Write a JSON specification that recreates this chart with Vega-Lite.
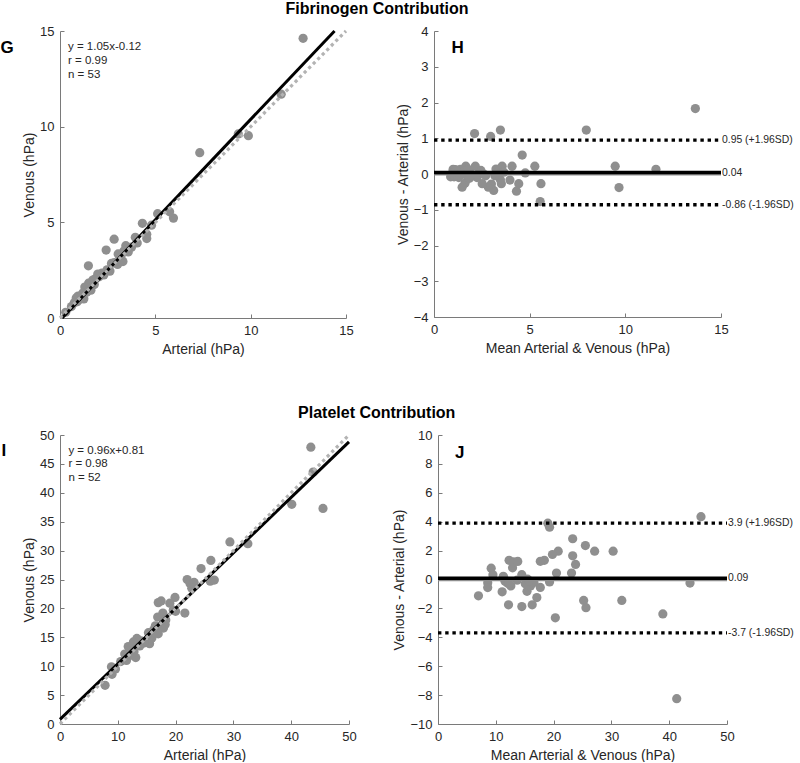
{
  "$schema": "https://vega.github.io/schema/vega-lite/v6.json",
  "padding": {"left": 0, "top": 0, "right": 0, "bottom": 0},
  "background": "white",
  "spacing": 48,
  "vconcat": [
    {
      "title": {"text": "Fibrinogen Contribution", "dx": -20},
      "spacing": 42,
      "hconcat": [
        {
          "width": 286, "height": 287,
          "encoding": {
            "x": {"field": "x", "type": "quantitative", "scale": {"domain": [0, 15], "nice": false, "zero": false}, "axis": {"values": [0, 5, 10, 15], "title": "Arterial (hPa)"}},
            "y": {"field": "y", "type": "quantitative", "scale": {"domain": [0, 15], "nice": false, "zero": false}, "axis": {"values": [0, 5, 10, 15], "title": "Venous (hPa)"}}
          },
          "layer": [
            {
              "data": {"values": [{"x":12.75,"y":14.62},{"x":11.6,"y":11.7},{"x":9.88,"y":9.53},{"x":9.35,"y":9.62},{"x":7.33,"y":8.64},{"x":5.95,"y":5.22},{"x":5.75,"y":5.55},{"x":5.12,"y":5.45},{"x":4.8,"y":4.85},{"x":4.32,"y":4.95},{"x":4.55,"y":4.38},{"x":4.55,"y":4.15},{"x":3.95,"y":4.22},{"x":4.05,"y":3.92},{"x":2.84,"y":4.12},{"x":3.45,"y":3.78},{"x":3.58,"y":3.45},{"x":3.35,"y":3.5},{"x":3.05,"y":3.35},{"x":3.02,"y":2.8},{"x":3.3,"y":2.95},{"x":3.2,"y":3.2},{"x":2.42,"y":3.55},{"x":2.7,"y":2.85},{"x":2.47,"y":2.52},{"x":2.62,"y":2.45},{"x":2.2,"y":2.35},{"x":1.98,"y":2.3},{"x":2.05,"y":2.15},{"x":1.85,"y":2.05},{"x":1.72,"y":1.98},{"x":1.49,"y":2.73},{"x":1.5,"y":1.82},{"x":1.62,"y":1.45},{"x":1.65,"y":1.65},{"x":1.3,"y":1.62},{"x":1.4,"y":1.35},{"x":1.2,"y":1.3},{"x":0.95,"y":1.15},{"x":1.1,"y":1.05},{"x":1.0,"y":0.95},{"x":0.85,"y":1.05},{"x":1.25,"y":1.0},{"x":0.6,"y":0.6},{"x":0.3,"y":0.3},{"x":1.8,"y":1.75},{"x":2.3,"y":2.25},{"x":0.9,"y":0.85},{"x":3.75,"y":3.7},{"x":1.55,"y":1.5},{"x":2.85,"y":2.9},{"x":1.15,"y":1.2},{"x":0.75,"y":0.8}]},
              "mark": {"type": "circle", "size": 85, "color": "#8f8f8f", "opacity": 1}
            },
            {
              "data": {"values": [{"x": 0.114, "y": 0}, {"x": 14.4, "y": 15}]},
              "mark": {"type": "line", "color": "#000000", "strokeWidth": 3}
            },
            {
              "data": {"values": [{"x": 0, "y": 0}, {"x": 15, "y": 15}]},
              "mark": {"type": "line", "color": "#b3b3b3", "strokeWidth": 3.2, "strokeDash": [3.2, 3.2]}
            },
            {
              "data": {"values": [{"x": 0.42, "y": 14.14, "label": "y = 1.05x-0.12"}, {"x": 0.42, "y": 13.41, "label": "r = 0.99"}, {"x": 0.42, "y": 12.7, "label": "n = 53"}]},
              "mark": {"type": "text", "align": "left", "baseline": "middle", "fontSize": 11.5, "font": "Liberation Sans", "color": "#262626"},
              "encoding": {"text": {"field": "label"}}
            },
            {
              "data": {"values": [{"x": -3.12, "y": 13.85, "label": "G"}]},
              "mark": {"type": "text", "align": "left", "baseline": "alphabetic", "fontSize": 17, "fontWeight": "bold", "font": "Liberation Sans", "color": "#000000"},
              "encoding": {"text": {"field": "label"}}
            }
          ]
        },
        {
          "width": 287, "height": 286,
          "encoding": {
            "x": {"field": "x", "type": "quantitative", "scale": {"domain": [0, 15], "nice": false, "zero": false}, "axis": {"values": [0, 5, 10, 15], "title": "Mean Arterial & Venous (hPa)"}},
            "y": {"field": "y", "type": "quantitative", "scale": {"domain": [-4, 4], "nice": false, "zero": false}, "axis": {"values": [-4, -3, -2, -1, 0, 1, 2, 3, 4], "title": "Venous - Arterial (hPa)"}}
          },
          "layer": [
            {
              "data": {"values": [{"x":13.66,"y":1.83},{"x":7.96,"y":1.23},{"x":11.6,"y":0.13},{"x":9.47,"y":0.22},{"x":9.67,"y":-0.38},{"x":3.47,"y":1.23},{"x":2.12,"y":1.13},{"x":2.96,"y":1.05},{"x":4.61,"y":0.53},{"x":5.27,"y":0.22},{"x":4.77,"y":0.03},{"x":5.59,"y":-0.27},{"x":5.55,"y":-0.77},{"x":4.31,"y":-0.48},{"x":4.43,"y":-0.27},{"x":4.08,"y":0.22},{"x":3.97,"y":-0.17},{"x":3.56,"y":0.22},{"x":3.47,"y":-0.16},{"x":3.52,"y":-0.27},{"x":3.24,"y":0.14},{"x":3.3,"y":0.03},{"x":3.12,"y":-0.46},{"x":3.0,"y":-0.28},{"x":2.84,"y":-0.37},{"x":2.52,"y":-0.27},{"x":2.35,"y":0.03},{"x":2.16,"y":0.22},{"x":2.0,"y":-0.05},{"x":1.66,"y":0.22},{"x":1.62,"y":-0.26},{"x":1.47,"y":-0.37},{"x":1.38,"y":0.13},{"x":1.2,"y":-0.05},{"x":1.0,"y":0.13},{"x":0.87,"y":-0.08},{"x":1.73,"y":-0.06},{"x":1.9,"y":0.02},{"x":1.12,"y":0.12},{"x":1.3,"y":-0.1},{"x":1.55,"y":0.05},{"x":2.25,"y":-0.1},{"x":2.6,"y":0.0},{"x":3.18,"y":-0.05},{"x":1.05,"y":-0.08},{"x":1.85,"y":-0.12},{"x":2.45,"y":0.1},{"x":3.4,"y":0.0},{"x":1.45,"y":0.02},{"x":2.7,"y":-0.05},{"x":0.95,"y":0.02},{"x":1.8,"y":0.12},{"x":3.65,"y":0.05}]},
              "mark": {"type": "circle", "size": 85, "color": "#8f8f8f", "opacity": 1}
            },
            {
              "data": {"values": [{"x": 0, "y": 0}, {"x": 15, "y": 0}]},
              "mark": {"type": "line", "color": "#8f8f8f", "strokeWidth": 3}
            },
            {
              "data": {"values": [{"x": 0, "y": 0.04}, {"x": 15, "y": 0.04}]},
              "mark": {"type": "line", "color": "#000000", "strokeWidth": 3.5}
            },
            {
              "data": {"values": [{"x": 0, "y": 0.95}, {"x": 15, "y": 0.95}]},
              "mark": {"type": "line", "color": "#000000", "strokeWidth": 3.3, "strokeDash": [3.4, 3.8]}
            },
            {
              "data": {"values": [{"x": 0, "y": -0.86}, {"x": 15, "y": -0.86}]},
              "mark": {"type": "line", "color": "#000000", "strokeWidth": 3.3, "strokeDash": [3.4, 3.8]}
            },
            {
              "data": {"values": [{"x": 15, "y": 0.95, "label": "0.95 (+1.96SD)"}, {"x": 15, "y": 0.04, "label": "0.04"}, {"x": 15, "y": -0.86, "label": "-0.86 (-1.96SD)"}]},
              "mark": {"type": "text", "align": "left", "baseline": "middle", "dx": 1, "fontSize": 10.4, "font": "Liberation Sans", "color": "#262626"},
              "encoding": {"text": {"field": "label"}}
            },
            {
              "data": {"values": [{"x": 0.91, "y": 3.39, "label": "H"}]},
              "mark": {"type": "text", "align": "left", "baseline": "alphabetic", "fontSize": 17, "fontWeight": "bold", "font": "Liberation Sans", "color": "#000000"},
              "encoding": {"text": {"field": "label"}}
            }
          ]
        }
      ]
    },
    {
      "title": {"text": "Platelet Contribution", "dx": -21},
      "spacing": 35,
      "hconcat": [
        {
          "width": 289, "height": 289,
          "encoding": {
            "x": {"field": "x", "type": "quantitative", "scale": {"domain": [0, 50], "nice": false, "zero": false}, "axis": {"values": [0, 10, 20, 30, 40, 50], "title": "Arterial (hPa)"}},
            "y": {"field": "y", "type": "quantitative", "scale": {"domain": [0, 50], "nice": false, "zero": false}, "axis": {"values": [0, 5, 10, 15, 20, 25, 30, 35, 40, 45, 50], "title": "Venous (hPa)"}}
          },
          "layer": [
            {
              "data": {"values": [{"x":43.4,"y":47.9},{"x":43.8,"y":43.6},{"x":45.5,"y":37.3},{"x":40.1,"y":38.0},{"x":29.4,"y":31.5},{"x":32.5,"y":31.2},{"x":26.1,"y":28.3},{"x":24.4,"y":26.9},{"x":26.0,"y":24.7},{"x":26.7,"y":24.9},{"x":22.0,"y":25.0},{"x":22.5,"y":24.3},{"x":23.2,"y":24.5},{"x":21.6,"y":19.2},{"x":19.9,"y":21.9},{"x":19.0,"y":20.9},{"x":19.6,"y":19.7},{"x":17.0,"y":21.0},{"x":17.5,"y":21.3},{"x":17.8,"y":19.2},{"x":16.9,"y":18.5},{"x":17.9,"y":17.5},{"x":17.9,"y":16.6},{"x":17.0,"y":15.6},{"x":16.2,"y":16.3},{"x":15.3,"y":15.8},{"x":15.5,"y":13.9},{"x":15.9,"y":14.9},{"x":14.0,"y":14.4},{"x":13.3,"y":14.8},{"x":12.7,"y":14.2},{"x":12.4,"y":13.2},{"x":11.8,"y":13.4},{"x":13.1,"y":11.5},{"x":11.5,"y":11.0},{"x":11.2,"y":12.1},{"x":12.8,"y":12.5},{"x":8.9,"y":9.9},{"x":9.0,"y":8.6},{"x":7.8,"y":6.7},{"x":9.6,"y":9.5},{"x":14.5,"y":14.0},{"x":18.3,"y":18.0},{"x":20.0,"y":19.5},{"x":23.0,"y":23.8},{"x":16.5,"y":17.0},{"x":10.5,"y":10.8},{"x":12.0,"y":11.8},{"x":16.8,"y":16.0},{"x":18.2,"y":17.2},{"x":13.8,"y":13.5},{"x":22.8,"y":23.5}]},
              "mark": {"type": "circle", "size": 85, "color": "#8f8f8f", "opacity": 1}
            },
            {
              "data": {"values": [{"x": 0, "y": 0.81}, {"x": 50, "y": 48.81}]},
              "mark": {"type": "line", "color": "#000000", "strokeWidth": 3}
            },
            {
              "data": {"values": [{"x": 0, "y": 0}, {"x": 50, "y": 50}]},
              "mark": {"type": "line", "color": "#b3b3b3", "strokeWidth": 3.2, "strokeDash": [3.2, 3.2]}
            },
            {
              "data": {"values": [{"x": 1.45, "y": 47.3, "label": "y = 0.96x+0.81"}, {"x": 1.45, "y": 44.9, "label": "r = 0.98"}, {"x": 1.45, "y": 42.5, "label": "n = 52"}]},
              "mark": {"type": "text", "align": "left", "baseline": "middle", "fontSize": 11.5, "font": "Liberation Sans", "color": "#262626"},
              "encoding": {"text": {"field": "label"}}
            },
            {
              "data": {"values": [{"x": -10.1, "y": 46.3, "label": "I"}]},
              "mark": {"type": "text", "align": "left", "baseline": "alphabetic", "fontSize": 17, "fontWeight": "bold", "font": "Liberation Sans", "color": "#000000"},
              "encoding": {"text": {"field": "label"}}
            }
          ]
        },
        {
          "width": 289, "height": 289,
          "encoding": {
            "x": {"field": "x", "type": "quantitative", "scale": {"domain": [0, 50], "nice": false, "zero": false}, "axis": {"values": [0, 10, 20, 30, 40, 50], "title": "Mean Arterial & Venous (hPa)"}},
            "y": {"field": "y", "type": "quantitative", "scale": {"domain": [-10, 10], "nice": false, "zero": false}, "axis": {"values": [-10, -8, -6, -4, -2, 0, 2, 4, 6, 8, 10], "title": "Venous - Arterial (hPa)"}}
          },
          "layer": [
            {
              "data": {"values": [{"x":45.5,"y":4.35},{"x":19.0,"y":3.9},{"x":19.3,"y":3.62},{"x":23.3,"y":2.82},{"x":25.5,"y":2.35},{"x":27.1,"y":1.96},{"x":30.3,"y":1.96},{"x":20.8,"y":1.96},{"x":19.8,"y":1.73},{"x":23.3,"y":1.64},{"x":23.8,"y":1.04},{"x":18.4,"y":1.33},{"x":17.7,"y":1.26},{"x":23.1,"y":0.45},{"x":20.5,"y":0.45},{"x":19.3,"y":-0.17},{"x":17.7,"y":-0.55},{"x":17.1,"y":-1.25},{"x":16.3,"y":-1.75},{"x":14.5,"y":-1.87},{"x":12.2,"y":-1.75},{"x":11.1,"y":-0.85},{"x":7.0,"y":-1.13},{"x":8.6,"y":-0.23},{"x":8.6,"y":-0.56},{"x":9.2,"y":0.78},{"x":9.5,"y":0.32},{"x":11.3,"y":0.22},{"x":11.6,"y":-0.12},{"x":12.3,"y":1.33},{"x":12.9,"y":0.81},{"x":13.1,"y":1.22},{"x":13.8,"y":1.25},{"x":12.6,"y":-0.45},{"x":13.7,"y":-0.05},{"x":14.5,"y":0.33},{"x":15.5,"y":0.02},{"x":15.4,"y":-0.82},{"x":16.0,"y":-0.45},{"x":16.6,"y":-0.2},{"x":20.3,"y":-2.65},{"x":25.2,"y":-1.45},{"x":25.6,"y":-1.95},{"x":31.8,"y":-1.45},{"x":38.9,"y":-2.38},{"x":43.6,"y":-0.25},{"x":41.3,"y":-8.25},{"x":12.0,"y":-0.25},{"x":15.1,"y":-0.3},{"x":11.4,"y":0.1},{"x":15.8,"y":-0.1},{"x":12.3,"y":-0.3}]},
              "mark": {"type": "circle", "size": 85, "color": "#8f8f8f", "opacity": 1}
            },
            {
              "data": {"values": [{"x": 0, "y": 0}, {"x": 50, "y": 0}]},
              "mark": {"type": "line", "color": "#8f8f8f", "strokeWidth": 3.5}
            },
            {
              "data": {"values": [{"x": 0, "y": 0.09}, {"x": 50, "y": 0.09}]},
              "mark": {"type": "line", "color": "#000000", "strokeWidth": 3.5}
            },
            {
              "data": {"values": [{"x": 0, "y": 3.9}, {"x": 50, "y": 3.9}]},
              "mark": {"type": "line", "color": "#000000", "strokeWidth": 3.3, "strokeDash": [3.4, 3.8]}
            },
            {
              "data": {"values": [{"x": 0, "y": -3.7}, {"x": 50, "y": -3.7}]},
              "mark": {"type": "line", "color": "#000000", "strokeWidth": 3.3, "strokeDash": [3.4, 3.8]}
            },
            {
              "data": {"values": [{"x": 50, "y": 3.9, "label": "3.9 (+1.96SD)"}, {"x": 50, "y": 0.09, "label": "0.09"}, {"x": 50, "y": -3.7, "label": "-3.7 (-1.96SD)"}]},
              "mark": {"type": "text", "align": "left", "baseline": "middle", "dx": 1, "fontSize": 10.4, "font": "Liberation Sans", "color": "#262626"},
              "encoding": {"text": {"field": "label"}}
            },
            {
              "data": {"values": [{"x": 2.94, "y": 8.43, "label": "J"}]},
              "mark": {"type": "text", "align": "left", "baseline": "alphabetic", "fontSize": 17, "fontWeight": "bold", "font": "Liberation Sans", "color": "#000000"},
              "encoding": {"text": {"field": "label"}}
            }
          ]
        }
      ]
    }
  ],
  "config": {
    "view": {"stroke": null},
    "font": "Liberation Sans",
    "axis": {
      "grid": false,
      "domainColor": "#7a7a7a",
      "tickColor": "#7a7a7a",
      "labelColor": "#262626",
      "titleColor": "#262626",
      "labelFont": "Liberation Sans",
      "titleFont": "Liberation Sans",
      "labelFontSize": 13,
      "titleFontSize": 14,
      "titleFontWeight": "normal",
      "tickSize": -4,
      "labelPadding": 10,
      "titlePadding": 3,
      "labelFlush": false,
      "labelOverlap": false
    },
    "axisX": {"titlePadding": 5},
    "title": {"fontSize": 16, "fontWeight": "bold", "font": "Liberation Sans", "color": "#000000", "offset": 8, "anchor": "middle"}
  }
}
